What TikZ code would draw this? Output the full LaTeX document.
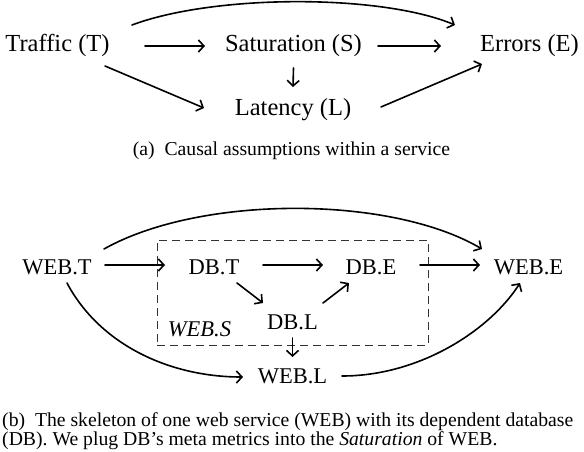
\documentclass[tikz,border=0pt]{standalone}
\usepackage{fontspec}
\setmainfont{Liberation Serif}
\usetikzlibrary{arrows.meta}
\begin{document}
\begin{tikzpicture}[x=1pt,y=-1pt,
  lbl/.style={anchor=base,inner sep=0pt,font=\fontsize{24.5}{28}\selectfont},
  lblb/.style={anchor=base,inner sep=0pt,font=\fontsize{22.5}{26}\selectfont},
  arr/.style={line width=1.6pt,line cap=round,-{Straight Barb[length=5.5pt,width=12pt,line width=1.6pt]}},
  captxt/.style={inner sep=0pt,font=\fontsize{19.7}{19}\selectfont},
  dbox/.style={draw=black!80,dash pattern=on 8pt off 5pt,line width=1pt,inner sep=0pt,minimum width=271pt,minimum height=105pt}]
\useasboundingbox (0,0) rectangle (584,452);
% ---- (a) ----
\node[lbl] (T) at (57.5,52) {Traffic (T)};
\node[lbl] (S) at (293.5,52) {Saturation (S)};
\node[lbl] (E) at (529.5,52) {Errors (E)};
\node[lbl] (L) at (293,115) {Latency (L)};
\draw[arr] ([shift={(87.5pt,6pt)}]T.base) -- ([shift={(-88.5pt,6pt)}]S.base);
\draw[arr] ([shift={(84.5pt,6pt)}]S.base) -- ([shift={(-88.5pt,6pt)}]E.base);
\draw[arr] ([shift={(0pt,-16pt)}]S.base) -- ([shift={(0pt,28pt)}]L.base);
\draw[arr] ([shift={(47.5pt,-14pt)}]T.base) -- ([shift={(-89pt,7pt)}]L.base);
\draw[arr] ([shift={(88pt,8pt)}]L.base) -- ([shift={(-47.5pt,-12pt)}]E.base);
\draw[arr] ([shift={(74.5pt,27pt)}]T.base) .. controls (215,-6) and (381,-6) .. ([shift={(-74.5pt,27pt)}]E.base);
\node[captxt,anchor=base] (capa) at (291.5,155) {(a)\hspace{0.5em}Causal assumptions within a service};
% ---- (b) ----
\node[dbox] (WSbox) at (292.5,292.5) {};
\node[lblb] (WT) at (57,274) {WEB.T};
\node[lblb] (DT) at (214,274) {DB.T};
\node[lblb] (DE) at (371,274) {DB.E};
\node[lblb] (WE) at (528.5,274) {WEB.E};
\node[lblb] (DL) at (292.5,329) {DB.L};
\node[lblb] (WL) at (292.5,383) {WEB.L};
\node[lblb,font=\fontsize{22.5}{26}\selectfont\itshape] (WS) at (199.5,336) {WEB.S};
\draw[arr] ([shift={(48pt,9pt)}]WT.base) -- ([shift={(-49pt,9pt)}]DT.base);
\draw[arr] ([shift={(49pt,9pt)}]DT.base) -- ([shift={(-48pt,9pt)}]DE.base);
\draw[arr] ([shift={(49pt,9pt)}]DE.base) -- ([shift={(-48.5pt,9pt)}]WE.base);
\draw[arr] ([shift={(23pt,-9pt)}]DT.base) -- ([shift={(-29.5pt,26pt)}]DL.base);
\draw[arr] ([shift={(30.5pt,26pt)}]DL.base) -- ([shift={(-22pt,-9pt)}]DE.base);
\draw[arr] ([shift={(0pt,-9pt)}]DL.base) -- ([shift={(0pt,26pt)}]WL.base);
\draw[arr] ([shift={(10pt,-9pt)}]WT.base) .. controls (100,345) and (170,377) .. ([shift={(-49.5pt,6pt)}]WL.base);
\draw[arr] ([shift={(49.5pt,7pt)}]WL.base) .. controls (420,376) and (490,330) .. ([shift={(-8.5pt,-9pt)}]WE.base);
\draw[arr] ([shift={(47pt,25pt)}]WT.base) .. controls (200,195) and (390,195) .. ([shift={(-46.5pt,25pt)}]WE.base);
\node[captxt,anchor=base west,align=left] (capb) at (2,445) {(b)\hspace{0.5em}The skeleton of one web service (WEB) with its dependent database\\(DB). We plug DB’s meta metrics into the \textit{Saturation} of WEB.};
\end{tikzpicture}
\end{document}
